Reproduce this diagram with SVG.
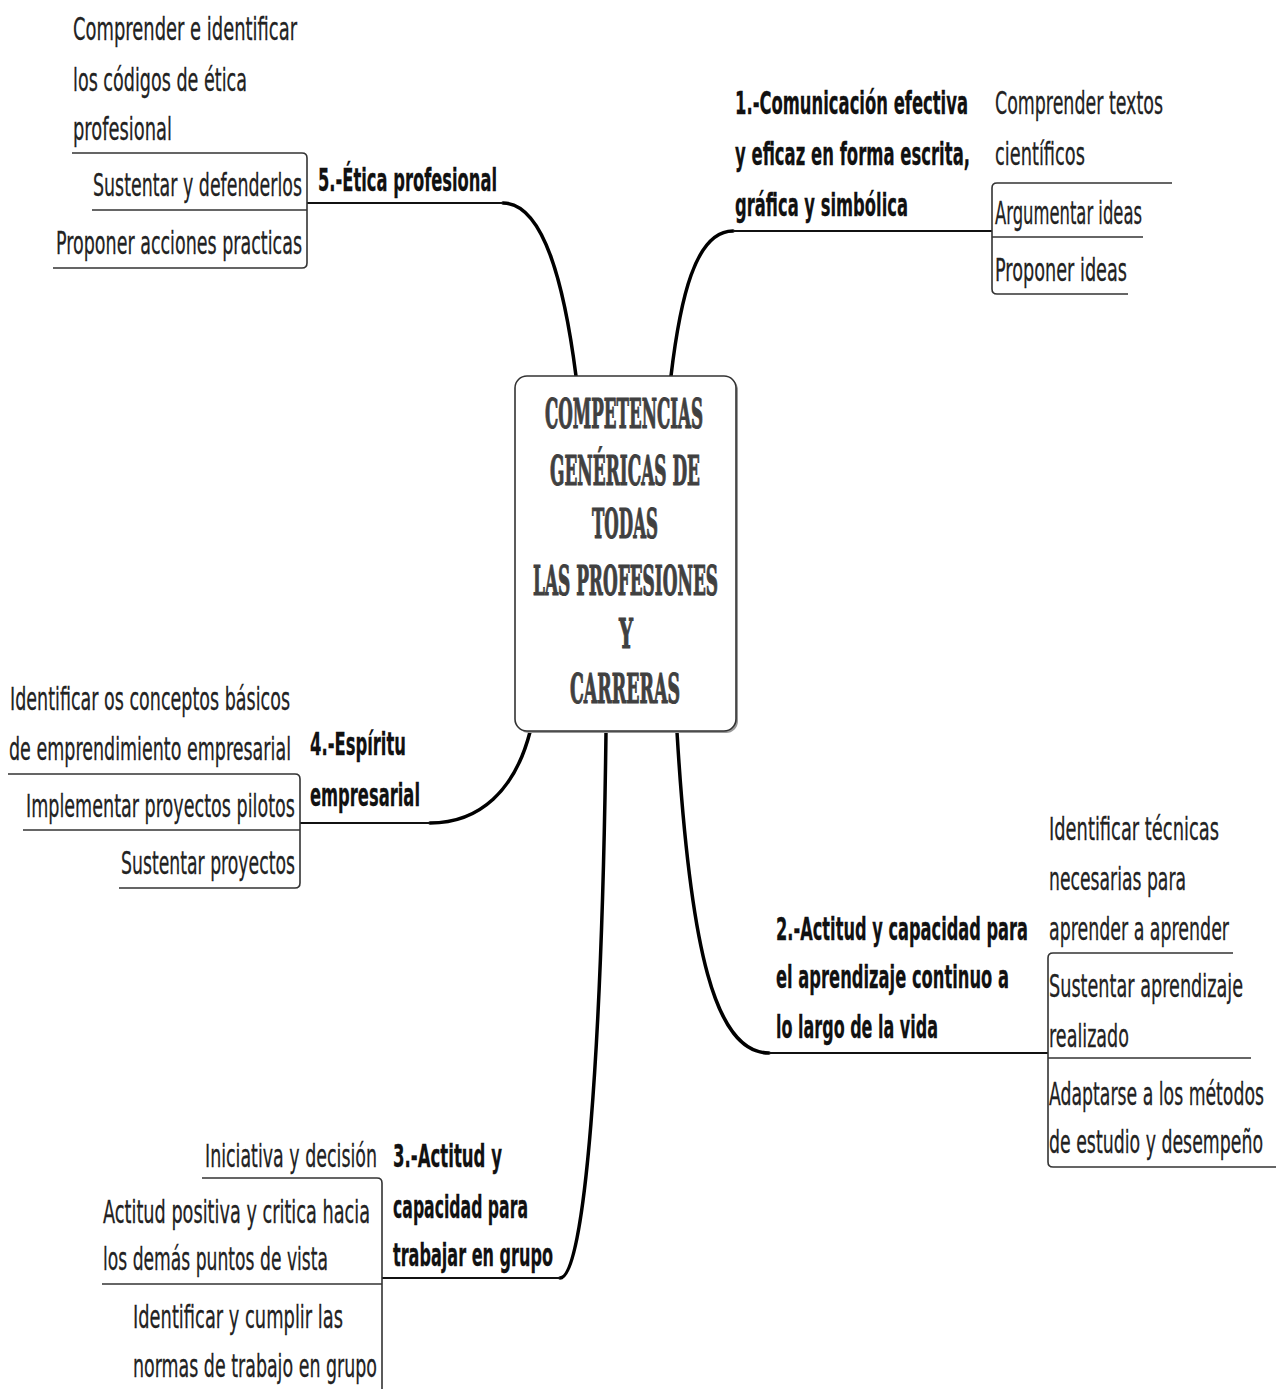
<svg xmlns="http://www.w3.org/2000/svg" width="1276" height="1389" viewBox="0 0 1276 1389">
<style>
.t{font-family:"DejaVu Sans","Liberation Sans",sans-serif;font-size:32px;fill:#222;stroke:#222;stroke-width:0.3;}
.b{font-weight:bold;fill:#111;stroke:#111;}
.c{font-family:"DejaVu Serif","Liberation Serif",serif;font-weight:bold;font-size:41px;fill:#404040;stroke:#404040;stroke-width:1.2;}
.conn{fill:none;stroke:#000;stroke-width:3.5;stroke-linecap:round;}
.ln{fill:none;stroke:#111;stroke-width:2;}
.br{fill:none;stroke:#333;stroke-width:1.6;}
</style>
<rect width="1276" height="1389" fill="#fff"/>
<g id="connectors">
<path class="conn" d="M576,376 C565,290 545,203 503,203"/>
<path class="ln" d="M503,203 H307"/>
<path class="conn" d="M671,376 C680,300 695,231 733,231"/>
<path class="ln" d="M733,231 H992"/>
<path class="conn" d="M530,732 C515,790 480,823 430,823"/>
<path class="ln" d="M430,823 H300"/>
<path class="conn" d="M606,732 C602,1050 585,1278 560,1278"/>
<path class="ln" d="M560,1278 H382"/>
<path class="conn" d="M677,732 C690,950 715,1053 769,1053"/>
<path class="ln" d="M769,1053 H1048"/>
</g>
<g id="center">
<rect x="517" y="378" width="221" height="355" rx="12" fill="#999"/>
<rect x="515" y="376" width="221" height="355" rx="12" fill="#fff" stroke="#333" stroke-width="1.6"/>
<text class="c" x="545" y="428" textLength="158" lengthAdjust="spacingAndGlyphs">COMPETENCIAS</text>
<text class="c" x="550" y="485" textLength="150" lengthAdjust="spacingAndGlyphs">GENÉRICAS DE</text>
<text class="c" x="592" y="538" textLength="66" lengthAdjust="spacingAndGlyphs">TODAS</text>
<text class="c" x="533" y="595" textLength="185" lengthAdjust="spacingAndGlyphs">LAS PROFESIONES</text>
<text class="c" x="619" y="648" textLength="14" lengthAdjust="spacingAndGlyphs">Y</text>
<text class="c" x="570" y="703" textLength="110" lengthAdjust="spacingAndGlyphs">CARRERAS</text>
</g>
<g id="node5">
<text class="t b" x="318" y="191" textLength="179" lengthAdjust="spacingAndGlyphs">5.-Ética profesional</text>
</g>
<g id="node5-subs">
<path class="br" d="M72,153 H302 Q307,153 307,158 V263 Q307,268 302,268 H53"/>
<path class="br" d="M92,210 H307"/>
<text class="t" x="73" y="40" textLength="224" lengthAdjust="spacingAndGlyphs">Comprender e identificar</text>
<text class="t" x="73" y="91" textLength="174" lengthAdjust="spacingAndGlyphs">los códigos de ética</text>
<text class="t" x="73" y="140" textLength="99" lengthAdjust="spacingAndGlyphs">profesional</text>
<text class="t" x="93" y="196" textLength="209" lengthAdjust="spacingAndGlyphs">Sustentar y defenderlos</text>
<text class="t" x="56" y="254" textLength="246" lengthAdjust="spacingAndGlyphs">Proponer acciones practicas</text>
</g>
<g id="node1">
<text class="t b" x="735" y="114" textLength="233" lengthAdjust="spacingAndGlyphs">1.-Comunicación efectiva</text>
<text class="t b" x="735" y="165" textLength="235" lengthAdjust="spacingAndGlyphs">y eficaz en forma escrita,</text>
<text class="t b" x="735" y="216" textLength="173" lengthAdjust="spacingAndGlyphs">gráfica y simbólica</text>
</g>
<g id="node1-subs">
<path class="br" d="M1172,183 H997 Q992,183 992,188 V289 Q992,294 997,294 H1128"/>
<path class="br" d="M992,237 H1143"/>
<text class="t" x="995" y="114" textLength="168" lengthAdjust="spacingAndGlyphs">Comprender textos</text>
<text class="t" x="995" y="165" textLength="90" lengthAdjust="spacingAndGlyphs">científicos</text>
<text class="t" x="995" y="224" textLength="147" lengthAdjust="spacingAndGlyphs">Argumentar ideas</text>
<text class="t" x="995" y="281" textLength="132" lengthAdjust="spacingAndGlyphs">Proponer ideas</text>
</g>
<g id="node4">
<text class="t b" x="310" y="755" textLength="96" lengthAdjust="spacingAndGlyphs">4.-Espíritu</text>
<text class="t b" x="310" y="806" textLength="110" lengthAdjust="spacingAndGlyphs">empresarial</text>
</g>
<g id="node4-subs">
<path class="br" d="M8,774 H295 Q300,774 300,779 V883 Q300,888 295,888 H119"/>
<path class="br" d="M23,830 H300"/>
<text class="t" x="10" y="710" textLength="280" lengthAdjust="spacingAndGlyphs">Identificar os conceptos básicos</text>
<text class="t" x="9" y="760" textLength="282" lengthAdjust="spacingAndGlyphs">de emprendimiento empresarial</text>
<text class="t" x="26" y="817" textLength="269" lengthAdjust="spacingAndGlyphs">Implementar proyectos pilotos</text>
<text class="t" x="121" y="874" textLength="174" lengthAdjust="spacingAndGlyphs">Sustentar proyectos</text>
</g>
<g id="node2">
<text class="t b" x="776" y="940" textLength="252" lengthAdjust="spacingAndGlyphs">2.-Actitud y capacidad para</text>
<text class="t b" x="776" y="988" textLength="233" lengthAdjust="spacingAndGlyphs">el aprendizaje continuo a</text>
<text class="t b" x="776" y="1038" textLength="162" lengthAdjust="spacingAndGlyphs">lo largo de la vida</text>
</g>
<g id="node2-subs">
<path class="br" d="M1233,953 H1053 Q1048,953 1048,958 V1162 Q1048,1167 1053,1167 H1276"/>
<path class="br" d="M1048,1058 H1251"/>
<text class="t" x="1049" y="840" textLength="170" lengthAdjust="spacingAndGlyphs">Identificar técnicas</text>
<text class="t" x="1049" y="890" textLength="137" lengthAdjust="spacingAndGlyphs">necesarias para</text>
<text class="t" x="1049" y="940" textLength="180" lengthAdjust="spacingAndGlyphs">aprender a aprender</text>
<text class="t" x="1049" y="997" textLength="194" lengthAdjust="spacingAndGlyphs">Sustentar aprendizaje</text>
<text class="t" x="1049" y="1047" textLength="80" lengthAdjust="spacingAndGlyphs">realizado</text>
<text class="t" x="1049" y="1105" textLength="215" lengthAdjust="spacingAndGlyphs">Adaptarse a los métodos</text>
<text class="t" x="1049" y="1153" textLength="214" lengthAdjust="spacingAndGlyphs">de estudio y desempeño</text>
</g>
<g id="node3">
<text class="t b" x="393" y="1167" textLength="109" lengthAdjust="spacingAndGlyphs">3.-Actitud y</text>
<text class="t b" x="393" y="1218" textLength="135" lengthAdjust="spacingAndGlyphs">capacidad para</text>
<text class="t b" x="393" y="1266" textLength="160" lengthAdjust="spacingAndGlyphs">trabajar en grupo</text>
</g>
<g id="node3-subs">
<path class="br" d="M202,1178 H377 Q382,1178 382,1183 V1389"/>
<path class="br" d="M102,1284 H382"/>
<text class="t" x="205" y="1167" textLength="172" lengthAdjust="spacingAndGlyphs">Iniciativa y decisión</text>
<text class="t" x="103" y="1223" textLength="267" lengthAdjust="spacingAndGlyphs">Actitud positiva y critica hacia</text>
<text class="t" x="103" y="1270" textLength="225" lengthAdjust="spacingAndGlyphs">los demás puntos de vista</text>
<text class="t" x="133" y="1328" textLength="210" lengthAdjust="spacingAndGlyphs">Identificar y cumplir las</text>
<text class="t" x="133" y="1377" textLength="244" lengthAdjust="spacingAndGlyphs">normas de trabajo en grupo</text>
</g>
</svg>
